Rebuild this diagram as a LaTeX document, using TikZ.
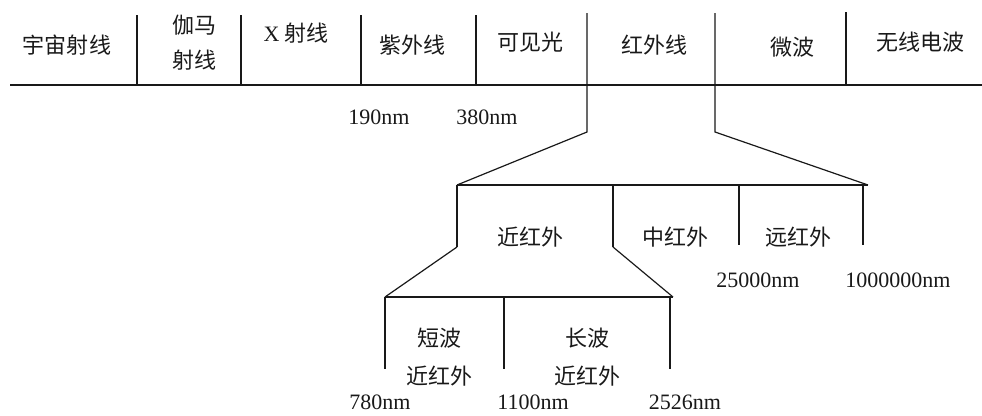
\documentclass[tikz,border=0pt]{standalone}
\usepackage{fontspec}
\setmainfont{Liberation Serif}
\newfontfamily\cjk{Noto Sans CJK SC}
\tikzset{
  ln/.style={line width=1.2pt, draw=black!90},
  zh/.style={font=\cjk\fontsize{22}{27}\selectfont, text=black!90, inner sep=0pt, align=center},
  nm/.style={font=\fontsize{22}{26}\selectfont, text=black!90, inner sep=0pt}
}
\begin{document}
\begin{tikzpicture}[x=1pt,y=-1pt]
\useasboundingbox (0,0) rectangle (982,415);
% top row labels
\node[zh] (cosmic) at (67,45) {宇宙射线};
\node[zh] (gamma1) at (194,25) {伽马};
\node[zh] (gamma2) at (194,60) {射线};
\node[zh] (xray) at (296,33) {{\rmfamily X} 射线};
\node[zh] (uv) at (412,45) {紫外线};
\node[zh] (vis) at (530,42) {可见光};
\node[zh] (ir) at (654,45) {红外线};
\node[zh] (mw) at (792,47) {微波};
\node[zh] (radio) at (920,42) {无线电波};
% top band lines
\coordinate (L0) at (10,85);
\coordinate (L1) at (982,85);
\draw[ln] (L0) -- (L1);
\foreach \x/\t in {137/15,241/15,361/15,476/15,846/12}{
  \draw[ln] (\x,\t) -- (\x,85);
}
\coordinate (a1) at (587,13);
\coordinate (a2) at (587,132);
\coordinate (b1) at (715,13);
\coordinate (b2) at (715,132);
\coordinate (c1) at (457,185);
\coordinate (c2) at (868,185);
\draw[ln] (a1) -- (a2) -- (c1);
\draw[ln] (b1) -- (b2) -- (c2);
\draw[ln] (c1) -- (c2);
\node[nm] (n190) at (379,117) {190nm};
\node[nm] (n380) at (487,117) {380nm};
% middle band
\coordinate (d1) at (457,247);
\coordinate (e0) at (613,185);
\coordinate (e1) at (613,247);
\draw[ln] (c1) -- (d1);
\draw[ln] (e0) -- (e1);
\draw[ln] (739,185) -- (739,245);
\draw[ln] (863,185) -- (863,245);
\node[zh] (near) at (530,237) {近红外};
\node[zh] (mid) at (675,237) {中红外};
\node[zh] (far) at (798,237) {远红外};
\node[nm] (n25000) at (758,280) {25000nm};
\node[nm] (n1000000) at (898,280) {1000000nm};
% bottom band
\coordinate (f1) at (385,297);
\coordinate (f2) at (673,297);
\draw[ln] (d1) -- (f1);
\draw[ln] (e1) -- (f2);
\draw[ln] (f1) -- (f2);
\draw[ln] (f1) -- (385,369);
\draw[ln] (504,297) -- (504,369);
\draw[ln] (670,297) -- (670,369);
\node[zh] (sw1) at (439,338) {短波};
\node[zh] (sw2) at (439,376) {近红外};
\node[zh] (lw1) at (587,338) {长波};
\node[zh] (lw2) at (587,376) {近红外};
\node[nm] (n780) at (380,402) {780nm};
\node[nm] (n1100) at (533,402) {1100nm};
\node[nm] (n2526) at (685,402) {2526nm};
\end{tikzpicture}
\end{document}
